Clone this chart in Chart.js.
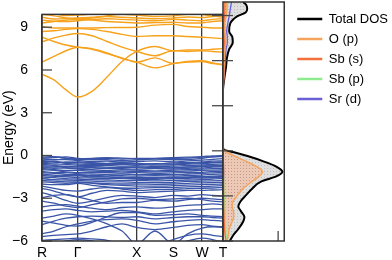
<!DOCTYPE html>
<html>
<head>
<meta charset="utf-8">
<script src="https://cdn.jsdelivr.net/npm/chart.js@4"></script>
<style>
  html, body { margin: 0; padding: 0; background: #fff; overflow: hidden; }
  #wrap { position: relative; width: 392px; height: 260px; overflow: hidden; }
  #wrap canvas { position: absolute; left: 0; top: 0; }
</style>
</head>
<body>
<div id="wrap">
  <canvas id="bandChart" width="392" height="260"></canvas>
  <canvas id="dosChart" width="398" height="260"></canvas>
</div>
<script>
// k-path (distance along path) and high-symmetry points
const kPath = [0, 12, 24, 35.7, 50, 65, 80, 94.7, 113, 131.3, 145.6, 160, 170.5, 181];
const kTicks = [0, 35.7, 94.7, 131.3, 160, 181];
const kLabels = ['R', 'Γ', 'X', 'S', 'W', 'T'];
const yTicks = [-6, -3, 0, 3, 6, 9];

// bands above the gap (eV), one value per kPath point
const conductionBands = [
  [5.7, 5.3, 4.6, 4.1, 4.5, 5.5, 6.6, 7.3, 7.65, 7.35, 7.4, 7.4, 7.45, 7.5],
  [6.55, 6.95, 7.35, 7.6, 7.45, 7.15, 6.85, 6.55, 6.85, 6.45, 6.6, 6.65, 6.5, 6.35],
  [8.3, 8.0, 7.75, 7.6, 7.5, 7.2, 6.8, 6.55, 6.15, 6.45, 6.55, 6.6, 6.45, 6.4],
  [7.97, 8.25, 8.45, 8.56, 8.4, 8.0, 7.6, 7.3, 7.0, 7.35, 7.3, 7.35, 7.3, 7.25],
  [8.7, 8.75, 8.85, 8.9, 8.85, 8.7, 8.5, 8.35, 8.4, 8.4, 8.35, 8.3, 8.25, 8.2],
  [9.05, 8.95, 8.95, 8.95, 8.95, 8.97, 8.98, 9.0, 9.15, 9.2, 9.05, 9.0, 8.95, 8.95],
  [9.3, 9.4, 9.5, 9.55, 9.5, 9.4, 9.35, 9.3, 9.32, 9.35, 9.3, 9.3, 9.4, 9.45],
  [9.5, 9.42, 9.4, 9.45, 9.55, 9.6, 9.55, 9.5, 9.45, 9.55, 9.5, 9.45, 9.55, 9.6],
  [9.7, 9.58, 9.6, 9.65, 9.7, 9.75, 9.7, 9.65, 9.6, 9.65, 9.72, 9.68, 9.75, 9.8],
  [9.9, 9.8, 9.65, 9.6, 9.65, 9.8, 9.9, 9.85, 9.75, 9.8, 9.9, 9.9, 9.88, 9.95],
  [10.2, 9.95, 9.82, 9.85, 9.95, 10.1, 10.2, 10.2, 9.95, 9.92, 10.05, 9.9, 9.78, 9.7]
];

// bands below the gap (eV)
const valenceBands = [
  [0.0, -0.08, -0.18, -0.22, -0.2, -0.15, -0.18, -0.22, -0.2, -0.15, -0.12, -0.08, -0.03, 0.0],
  [-0.12, -0.1, -0.2, -0.3, -0.28, -0.3, -0.35, -0.3, -0.25, -0.3, -0.28, -0.2, -0.1, -0.08],
  [-0.2, -0.15, -0.1, -0.2, -0.25, -0.2, -0.25, -0.2, -0.22, -0.2, -0.18, -0.12, -0.1, -0.05],
  [-0.25, -0.3, -0.28, -0.35, -0.42, -0.4, -0.45, -0.42, -0.38, -0.45, -0.38, -0.32, -0.28, -0.22],
  [-0.35, -0.45, -0.5, -0.45, -0.5, -0.55, -0.5, -0.55, -0.6, -0.52, -0.5, -0.45, -0.4, -0.38],
  [-0.42, -0.4, -0.55, -0.6, -0.62, -0.65, -0.62, -0.6, -0.68, -0.65, -0.6, -0.58, -0.52, -0.5],
  [-0.5, -0.52, -0.45, -0.5, -0.55, -0.58, -0.55, -0.6, -0.58, -0.6, -0.55, -0.5, -0.48, -0.45],
  [-0.55, -0.6, -0.62, -0.7, -0.72, -0.7, -0.75, -0.72, -0.78, -0.75, -0.7, -0.68, -0.62, -0.6],
  [-0.6, -0.7, -0.78, -0.8, -0.78, -0.82, -0.85, -0.8, -0.85, -0.88, -0.8, -0.75, -0.72, -0.7],
  [-0.72, -0.75, -0.85, -0.9, -0.95, -0.9, -0.92, -0.95, -0.92, -0.95, -0.9, -0.88, -0.82, -0.8],
  [-0.8, -0.82, -0.75, -0.8, -0.85, -0.88, -0.82, -0.85, -0.9, -0.85, -0.82, -0.78, -0.75, -0.75],
  [-0.85, -0.9, -0.88, -0.95, -1.0, -1.05, -1.0, -1.02, -1.08, -1.02, -1.0, -0.95, -0.92, -0.9],
  [-0.9, -1.0, -1.05, -1.05, -1.1, -1.12, -1.1, -1.12, -1.15, -1.12, -1.1, -1.05, -1.02, -1.0],
  [-1.0, -1.05, -1.15, -1.2, -1.18, -1.2, -1.22, -1.2, -1.25, -1.22, -1.2, -1.18, -1.12, -1.1],
  [-1.12, -1.2, -1.2, -1.28, -1.3, -1.32, -1.3, -1.35, -1.32, -1.35, -1.3, -1.25, -1.22, -1.2],
  [-1.2, -1.25, -1.32, -1.35, -1.4, -1.38, -1.42, -1.45, -1.42, -1.45, -1.4, -1.38, -1.32, -1.3],
  [-1.3, -1.38, -1.45, -1.42, -1.5, -1.5, -1.52, -1.55, -1.55, -1.55, -1.5, -1.48, -1.45, -1.42],
  [-1.4, -1.45, -1.5, -1.55, -1.58, -1.62, -1.6, -1.65, -1.68, -1.62, -1.6, -1.58, -1.55, -1.52],
  [-1.6, -1.5, -1.4, -1.35, -1.45, -1.5, -1.58, -1.62, -1.6, -1.58, -1.55, -1.52, -1.5, -1.48],
  [-1.5, -1.55, -1.62, -1.65, -1.7, -1.72, -1.75, -1.75, -1.78, -1.75, -1.72, -1.7, -1.65, -1.62],
  [-1.62, -1.7, -1.72, -1.75, -1.8, -1.85, -1.85, -1.88, -1.9, -1.88, -1.82, -1.8, -1.78, -1.75],
  [-1.75, -1.8, -1.85, -1.85, -1.92, -1.98, -2.0, -2.0, -2.02, -2.0, -1.95, -1.92, -1.9, -1.88],
  [-1.85, -1.9, -1.95, -1.9, -1.95, -2.05, -2.1, -2.15, -2.15, -2.12, -2.08, -2.05, -2.02, -2.0],
  [-2.0, -2.05, -2.05, -1.95, -2.1, -2.2, -2.28, -2.3, -2.25, -2.25, -2.2, -2.18, -2.15, -2.12],
  [-2.15, -2.3, -2.45, -2.5, -2.35, -2.25, -2.35, -2.45, -2.4, -2.38, -2.32, -2.3, -2.28, -2.25],
  [-2.3, -2.5, -2.75, -2.9, -2.65, -2.45, -2.5, -2.6, -2.55, -2.5, -2.45, -2.45, -2.42, -2.4],
  [-2.6, -2.85, -3.15, -3.35, -3.2, -2.95, -2.8, -2.85, -2.95, -2.8, -2.85, -2.75, -2.8, -2.85],
  [-2.95, -2.8, -2.75, -2.9, -3.15, -3.35, -3.3, -3.3, -3.15, -3.2, -3.1, -3.0, -3.05, -3.1],
  [-3.2, -3.35, -3.55, -3.65, -3.45, -3.25, -3.05, -3.0, -3.1, -3.05, -3.0, -3.1, -3.2, -3.25],
  [-3.6, -3.5, -3.45, -3.55, -3.7, -3.8, -3.65, -3.6, -3.7, -3.6, -3.5, -3.45, -3.4, -3.45],
  [-3.9, -3.8, -3.75, -3.85, -3.95, -3.9, -3.85, -3.95, -4.1, -3.95, -3.85, -3.8, -3.75, -3.75],
  [-4.4, -4.25, -4.1, -4.2, -4.45, -4.8, -5.3, -6.2, -5.3, -6.2, -5.5, -5.1, -5.0, -5.05],
  [-4.6, -4.75, -4.9, -4.95, -4.7, -4.3, -4.0, -4.0, -4.2, -4.15, -4.1, -4.2, -4.25, -4.3],
  [-4.85, -4.6, -4.4, -4.3, -4.25, -4.3, -4.35, -4.3, -4.45, -4.35, -4.3, -4.3, -4.35, -4.4],
  [-5.5, -5.3, -5.0, -4.8, -4.6, -4.5, -4.45, -4.55, -4.8, -4.65, -4.55, -4.5, -4.55, -4.6],
  [-5.7, -5.6, -5.55, -5.5, -5.3, -5.0, -4.8, -5.05, -5.2, -5.05, -4.9, -4.85, -4.95, -5.0],
  [-5.95, -5.9, -5.85, -5.8, -5.85, -5.95, -6.3, -6.5, -6.3, -5.9, -5.6, -5.5, -5.6, -5.7],
  [-6.3, -6.2, -6.0, -5.9, -6.0, -6.3, -6.5, -6.6, -6.5, -6.3, -6.0, -5.8, -5.9, -6.1]
];

// density of states (states/eV) on an energy grid
const dosEnergy = [-6, -5.6, -5.2, -4.7, -4.4, -4.0, -3.7, -3.4, -3.0, -2.5, -2.05, -1.7, -1.4, -1.05, -0.7, -0.35, -0.1, 0.05, 0.2,
  4.0, 4.3, 5.0, 5.6, 6.2, 6.75, 7.2, 7.6, 7.95, 8.5, 8.75, 8.95, 9.2, 9.45, 9.7, 9.9];
const totalDos = [1.1, 1.7, 2.5, 3.3, 3.5, 2.9, 2.5, 2.8, 3.65, 4.8, 6.2, 8.7, 9.7, 8.7, 6.6, 4.0, 1.8, 0.3, 0,
  0, 0.05, 0.28, 0.5, 0.65, 1.0, 1.6, 1.5, 1.0, 1.2, 1.7, 2.3, 3.7, 3.95, 3.8, 3.3];
const oP = [0.6, 0.9, 1.0, 1.5, 1.75, 1.7, 1.5, 1.6, 2.3, 3.3, 4.7, 5.9, 6.45, 5.5, 3.8, 1.9, 0.6, 0.1, 0,
  0, 0.02, 0.1, 0.15, 0.2, 0.3, 0.45, 0.4, 0.3, 0.3, 0.4, 0.5, 0.6, 0.65, 0.6, 0.55];
const sbS = [0.5, 0.35, 0.25, 0.2, 0.18, 0.15, 0.12, 0.12, 0.1, 0.1, 0.08, 0.08, 0.1, 0.08, 0.06, 0.04, 0.02, 0, 0,
  0, 0.05, 0.15, 0.2, 0.2, 0.2, 0.22, 0.2, 0.2, 0.22, 0.25, 0.25, 0.28, 0.3, 0.3, 0.3];
const sbP = [0.6, 0.5, 0.45, 0.4, 0.35, 0.3, 0.3, 0.25, 0.2, 0.15, 0.1, 0.08, 0.06, 0.05, 0.04, 0.03, 0.02, 0, 0,
  0, 0.02, 0.08, 0.1, 0.12, 0.15, 0.2, 0.2, 0.2, 0.25, 0.3, 0.4, 0.55, 0.65, 0.75, 0.8];
const srD = [0.05, 0.05, 0.06, 0.06, 0.06, 0.05, 0.05, 0.05, 0.06, 0.07, 0.08, 0.1, 0.1, 0.08, 0.06, 0.04, 0.02, 0, 0,
  0, 0.03, 0.15, 0.3, 0.4, 0.5, 0.7, 0.7, 0.6, 0.8, 0.9, 1.0, 1.1, 1.2, 1.3, 1.4];
const dosTicks = [9];

Chart.defaults.font.family = '"Liberation Sans", Arial, sans-serif';
Chart.defaults.color = '#000';

// dotted fills like the reference
function dotPattern(base, dot) {
  const c = document.createElement('canvas');
  c.width = 3; c.height = 3;
  const g = c.getContext('2d');
  g.fillStyle = base; g.fillRect(0, 0, 3, 3);
  g.fillStyle = dot; g.fillRect(0, 0, 1, 1);
  return g.createPattern(c, 'repeat');
}

// frame + inward ticks
const framePlugin = {
  id: 'frame',
  afterDraw(chart, args, opts) {
    const { ctx, chartArea: a, scales } = chart;
    ctx.save();
    ctx.strokeStyle = '#4a4a4a';
    ctx.lineWidth = 1.3;
    yTicks.forEach(v => {
      const y = scales.y.getPixelForValue(v);
      ctx.beginPath();
      ctx.moveTo(a.left - opts.tickOut, y);
      ctx.lineTo(a.left + opts.tickIn, y);
      ctx.stroke();
    });
    (opts.bottomTicks || []).forEach(v => {
      const x = scales.x.getPixelForValue(v);
      ctx.beginPath();
      ctx.moveTo(x, a.bottom);
      ctx.lineTo(x, a.bottom - 10);
      ctx.stroke();
    });
    ctx.strokeStyle = '#333';
    ctx.lineWidth = 1.5;
    ctx.strokeRect(a.left, a.top, a.right - a.left, a.bottom - a.top);
    ctx.restore();
  }
};

const bandSets = [];
conductionBands.forEach(b => bandSets.push({
  data: b.map((e, i) => ({ x: kPath[i], y: e })),
  borderColor: '#f7a21c', borderWidth: 1.4
}));
valenceBands.forEach(b => bandSets.push({
  data: b.map((e, i) => ({ x: kPath[i], y: e })),
  borderColor: '#3a55a7', borderWidth: 1.3
}));

new Chart(document.getElementById('bandChart'), {
  type: 'line',
  data: { datasets: bandSets },
  options: {
    responsive: false,
    animation: false,
    devicePixelRatio: 1,
    layout: { padding: { top: 2, right: 169, left: 0, bottom: 0 } },
    elements: { point: { radius: 0 }, line: { cubicInterpolationMode: 'monotone', fill: false } },
    plugins: { legend: { display: false }, tooltip: { enabled: false }, frame: { tickIn: 10, tickOut: 0 } },
    scales: {
      x: {
        type: 'linear', min: 0, max: 181,
        afterBuildTicks: s => { s.ticks = kTicks.map(v => ({ value: v })); },
        afterFit: s => { s.height = 19; },
        ticks: { padding: 4, font: { size: 14 }, autoSkip: false, maxRotation: 0, callback: (v, i) => kLabels[i] },
        grid: { color: '#3a3a3a', lineWidth: 1.3, drawTicks: false },
        border: { display: false }
      },
      y: {
        type: 'linear', min: -6, max: 9.9,
        afterBuildTicks: s => { s.ticks = yTicks.map(v => ({ value: v })); },
        afterFit: s => { s.width = 42; },
        ticks: { padding: 6, font: { size: 14 }, callback: v => v < 0 ? '\u2212' + Math.abs(v) : String(v) },
        grid: { display: false },
        border: { display: false },
        title: { display: true, text: 'Energy (eV)', font: { size: 14 }, padding: { top: 1, bottom: 0 } }
      }
    }
  },
  plugins: [framePlugin]
});

const pts = arr => arr.map((d, i) => ({ x: d, y: dosEnergy[i] }));

new Chart(document.getElementById('dosChart'), {
  type: 'line',
  data: {
    datasets: [
      { label: 'Total DOS', data: pts(totalDos), borderColor: '#000', borderWidth: 2,
        backgroundColor: dotPattern('#dedede', '#bcbcc4'), fill: 'origin', order: 1 },
      { label: 'O (p)', data: pts(oP), borderColor: '#f5a45e', borderWidth: 1.5,
        backgroundColor: dotPattern('#ebc9b6', '#c9977e'), fill: 'origin', order: 0 },
      { label: 'Sb (s)', data: pts(sbS), borderColor: '#f2703c', borderWidth: 1.3, fill: false, order: 0 },
      { label: 'Sb (p)', data: pts(sbP), borderColor: '#8eea8e', borderWidth: 1.3, fill: false, order: 0 },
      { label: 'Sr (d)', data: pts(srD), borderColor: '#6b5fd6', borderWidth: 1.3, fill: false, order: 0 }
    ]
  },
  options: {
    indexAxis: 'y',
    responsive: false,
    animation: false,
    devicePixelRatio: 1,
    layout: { padding: { top: 2, right: 0, left: 0, bottom: 0 } },
    elements: { point: { radius: 0 }, line: { cubicInterpolationMode: 'monotone' } },
    plugins: {
      filler: { drawTime: 'beforeDatasetsDraw' },
      tooltip: { enabled: false },
      frame: { tickIn: 10, tickOut: 11, bottomTicks: dosTicks },
      legend: {
        position: 'right',
        align: 'start',
        maxWidth: 130,
        title: { display: true, text: '', font: { size: 1 }, padding: { top: 1, bottom: 1.3 } },
        labels: {
          usePointStyle: true,
          pointStyle: 'line',
          pointStyleWidth: 25,
          padding: 7,
          font: { size: 13 },
          color: '#000',
          sort: (a, b) => a.datasetIndex - b.datasetIndex,
          generateLabels: chart => Chart.defaults.plugins.legend.labels.generateLabels(chart)
            .map(l => Object.assign(l, { lineWidth: 2.5 }))
        }
      }
    },
    scales: {
      x: {
        type: 'linear', min: 0, max: 10,
        ticks: { display: false }, grid: { display: false }, border: { display: false },
        afterFit: s => { s.height = 19; }
      },
      y: {
        type: 'linear', min: -6, max: 9.9, position: 'left',
        ticks: { display: false }, grid: { display: false }, border: { display: false },
        afterFit: s => { s.width = 223; }
      },
      yr: {
        type: 'linear', min: 0, max: 1, position: 'right',
        ticks: { display: false }, grid: { display: false }, border: { display: false },
        afterFit: s => { s.width = 6; }
      }
    }
  },
  plugins: [framePlugin]
});
</script>
</body>
</html>
